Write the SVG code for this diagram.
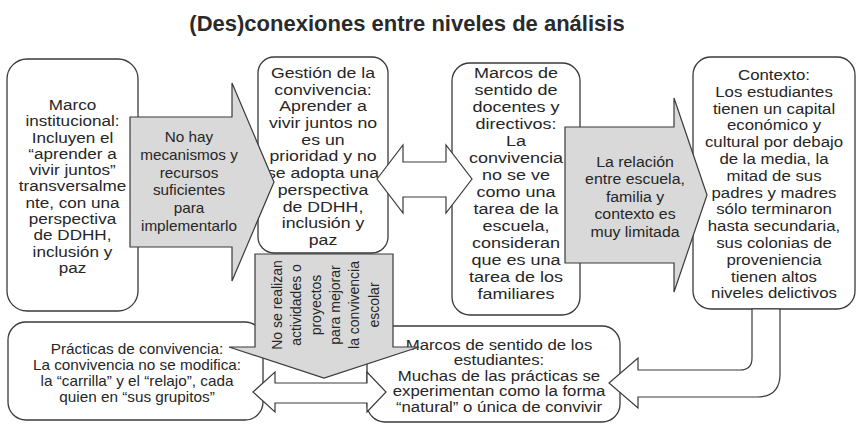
<svg xmlns="http://www.w3.org/2000/svg" width="864" height="428" viewBox="0 0 864 428">
<style>
.box{fill:#fff;stroke:#3a3a3a;stroke-width:1.3}
.gray{fill:#d9d9d9;stroke:#3a3a3a;stroke-width:1.2;stroke-linejoin:miter}
.white{fill:#fff;stroke:#3a3a3a;stroke-width:1.2}
text{font-family:"Liberation Sans",Arial,sans-serif;font-size:15px;fill:#262626;text-anchor:middle}
.title{font-size:22px;font-weight:bold;fill:#2a2a2a}
.vt{font-size:14px}
</style>
<rect width="864" height="428" fill="#fff"/>
<text class="title" x="407" y="31">(Des)conexiones entre niveles de análisis</text>

<g id="marco-institucional">
<rect class="box" x="7" y="59" width="131" height="252" rx="20"/>
<g transform="translate(72.5,0) scale(1.14,1)">
<text y="110"><tspan x="0">Marco</tspan><tspan x="0" dy="16.3">institucional:</tspan><tspan x="0" dy="16.3">Incluyen el</tspan><tspan x="0" dy="16.3">“aprender a</tspan><tspan x="0" dy="16.3">vivir juntos”</tspan><tspan x="0" dy="16.3">transversalme</tspan><tspan x="0" dy="16.3">nte, con una</tspan><tspan x="0" dy="16.3">perspectiva</tspan><tspan x="0" dy="16.3">de DDHH,</tspan><tspan x="0" dy="16.3">inclusión y</tspan><tspan x="0" dy="16.3">paz</tspan></text>
</g>
</g>

<g id="gestion-convivencia">
<rect class="box" x="258" y="57" width="130" height="196" rx="16"/>
<g transform="translate(323,0) scale(1.18,1)">
<text y="78"><tspan x="0">Gestión de la</tspan><tspan x="0" dy="16.7">convivencia:</tspan><tspan x="0" dy="16.7">Aprender a</tspan><tspan x="0" dy="16.7">vivir juntos no</tspan><tspan x="0" dy="16.7">es un</tspan><tspan x="0" dy="16.7">prioridad y no</tspan><tspan x="0" dy="16.7">se adopta una</tspan><tspan x="0" dy="16.7">perspectiva</tspan><tspan x="0" dy="16.7">de DDHH,</tspan><tspan x="0" dy="16.7">inclusión y</tspan><tspan x="0" dy="16.7">paz</tspan></text>
</g>
</g>

<g id="marcos-docentes">
<rect class="box" x="452" y="63" width="128" height="252" rx="18"/>
<g transform="translate(516,0) scale(1.2,1)">
<text y="78"><tspan x="0">Marcos de</tspan><tspan x="0" dy="17">sentido de</tspan><tspan x="0" dy="17">docentes y</tspan><tspan x="0" dy="17">directivos:</tspan><tspan x="0" dy="17">La</tspan><tspan x="0" dy="17">convivencia</tspan><tspan x="0" dy="17">no se ve</tspan><tspan x="0" dy="17">como una</tspan><tspan x="0" dy="17">tarea de la</tspan><tspan x="0" dy="17">escuela,</tspan><tspan x="0" dy="17">consideran</tspan><tspan x="0" dy="17">que es una</tspan><tspan x="0" dy="17">tarea de los</tspan><tspan x="0" dy="17">familiares</tspan></text>
</g>
</g>

<g id="contexto">
<rect class="box" x="693" y="57" width="162" height="252" rx="18"/>
<g transform="translate(774,0) scale(1.12,1)">
<text y="80"><tspan x="0">Contexto:</tspan><tspan x="0" dy="16.8">Los estudiantes</tspan><tspan x="0" dy="16.8">tienen un capital</tspan><tspan x="0" dy="16.8">económico y</tspan><tspan x="0" dy="16.8">cultural por debajo</tspan><tspan x="0" dy="16.8">de la media, la</tspan><tspan x="0" dy="16.8">mitad de sus</tspan><tspan x="0" dy="16.8">padres y madres</tspan><tspan x="0" dy="16.8">sólo terminaron</tspan><tspan x="0" dy="16.8">hasta secundaria,</tspan><tspan x="0" dy="16.8">sus colonias de</tspan><tspan x="0" dy="16.8">proveniencia</tspan><tspan x="0" dy="16.8">tienen altos</tspan><tspan x="0" dy="16.8">niveles delictivos</tspan></text>
</g>
</g>

<g id="practicas-convivencia">
<rect class="box" x="8" y="322" width="255" height="98" rx="18"/>
<g transform="translate(137,0) scale(1.02,1)">
<text y="354"><tspan x="0">Prácticas de convivencia:</tspan><tspan x="0" dy="16">La convivencia no se modifica:</tspan><tspan x="0" dy="16">la “carrilla” y el “relajo”, cada</tspan><tspan x="0" dy="16">quien en “sus grupitos”</tspan></text>
</g>
</g>

<g id="marcos-estudiantes">
<rect class="box" x="367" y="326" width="253" height="96" rx="18"/>
<g transform="translate(499,0) scale(1.12,1)">
<text y="350"><tspan x="0">Marcos de sentido de los</tspan><tspan x="0" dy="15.5">estudiantes:</tspan><tspan x="0" dy="15.5">Muchas de las prácticas se</tspan><tspan x="0" dy="15.5">experimentan como la forma</tspan><tspan x="0" dy="15.5">“natural” o única de convivir</tspan></text>
</g>
</g>

<g id="connectors">
<path class="gray" d="M130 117 H232 V83 L274 182 L232 281 V247 H130 Z"/>
<g transform="translate(189,0) scale(1.02,1)">
<text y="142"><tspan x="0">No hay</tspan><tspan x="0" dy="17.8">mecanismos y</tspan><tspan x="0" dy="17.8">recursos</tspan><tspan x="0" dy="17.8">suficientes</tspan><tspan x="0" dy="17.8">para</tspan><tspan x="0" dy="17.8">implementarlo</tspan></text>
</g>
<path class="white" d="M377 179 L403 145 V162 H446 V145 L472 179 L446 213 V197 H403 V213 Z"/>
<path class="gray" d="M565 127 H674 V98 L707 195 L674 292 V263 H565 Z"/>
<g transform="translate(635,0) scale(1.06,1)">
<text y="167"><tspan x="0">La relación</tspan><tspan x="0" dy="17.5">entre escuela,</tspan><tspan x="0" dy="17.5">familia y</tspan><tspan x="0" dy="17.5">contexto es</tspan><tspan x="0" dy="17.5">muy limitada</tspan></text>
</g>
<path class="white" d="M253 392 L275 372 V383 H367 V372 L386 392 L367 412 V403 H275 V412 Z"/>
<path class="gray" d="M255 254 H393 V347 H419 L324 378 L229 347 H255 Z"/>
<g transform="translate(324,305) rotate(-90)">
<text class="vt" x="0" y="-42"><tspan x="0">No se realizan</tspan><tspan x="0" dy="19.3">actividades o</tspan><tspan x="0" dy="19.3">proyectos</tspan><tspan x="0" dy="19.3">para mejorar</tspan><tspan x="0" dy="19.3">la convivencia</tspan><tspan x="0" dy="19.3">escolar</tspan></text>
</g>
<path class="white" d="M752 309 V358 Q752 370 740 370 H638 V358 L609 383 L638 408 V397 H757 Q780 397 780 374 V309 Z"/>
</g>
</svg>
